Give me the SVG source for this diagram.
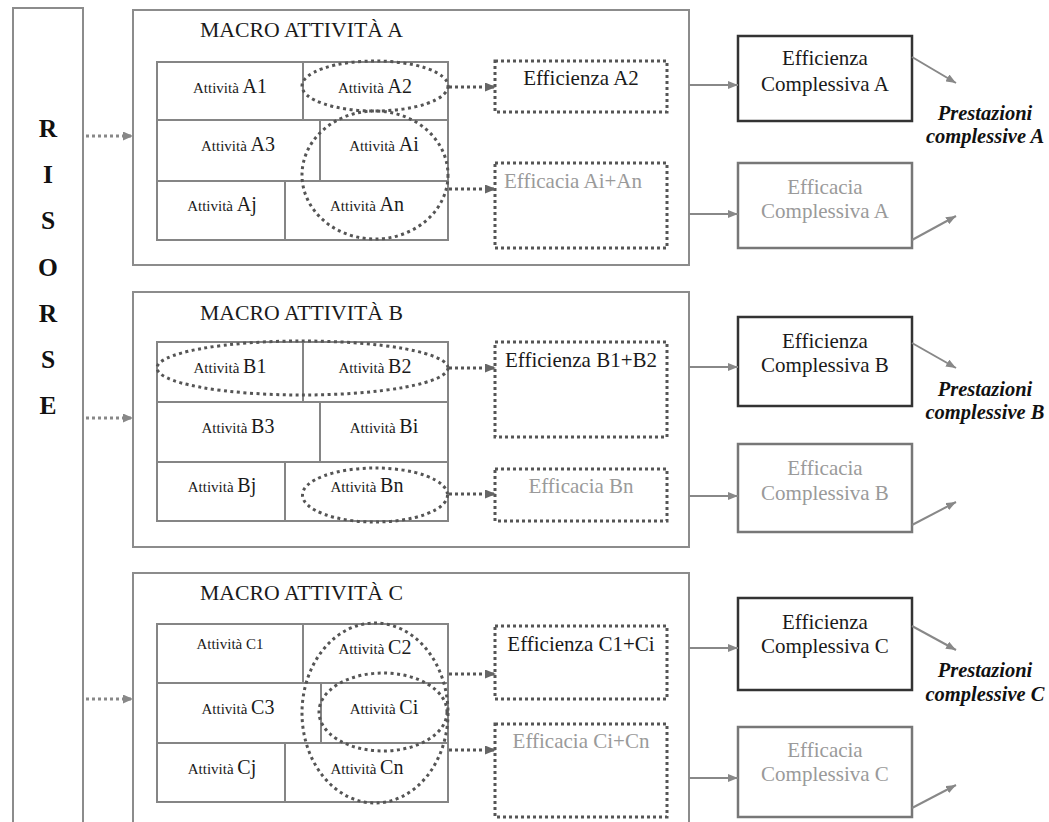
<svg xmlns="http://www.w3.org/2000/svg" width="1049" height="822" viewBox="0 0 1049 822" font-family="'Liberation Serif', 'DejaVu Serif', 'Noto Serif', 'Times New Roman', Times, serif">
<style>
text{font-family:'Liberation Serif','DejaVu Serif','Noto Serif','Times New Roman',Times,serif;fill:#1a1a1a}
.res{font-weight:bold;font-size:25.5px;text-anchor:middle;fill:#111}
.title{font-size:21px}
.cell{text-anchor:middle}
.sm{font-size:15px}
.lg{font-size:20px}
.macro{fill:#fff;stroke:#8c8c8c;stroke-width:2}
.grid{fill:#fff;stroke:#858585;stroke-width:2}
.gl{stroke:#858585;stroke-width:2}
.dotbox{fill:none;stroke:#555;stroke-width:3;stroke-dasharray:3 3}
.ell{fill:none;stroke:#555;stroke-width:3;stroke-dasharray:3 3.5}
.bt{font-size:21px;text-anchor:middle}
.gray{fill:#9a9a9a}
.effbox{fill:#fff;stroke:#333;stroke-width:2.5}
.efcbox{fill:#fff;stroke:#777;stroke-width:2.5}
.pre{font-size:20.5px;font-weight:bold;font-style:italic;text-anchor:middle;fill:#111}
.dotarr{stroke:#555;stroke-width:3;stroke-dasharray:3 3;fill:none}
.resarr{stroke:#888;stroke-width:3;stroke-dasharray:3 3;fill:none}
.solarr{stroke:#888;stroke-width:2;fill:none}
</style>
<defs>
<marker id="mSol" markerUnits="userSpaceOnUse" markerWidth="10" markerHeight="8" refX="10" refY="4" orient="auto"><path d="M0,0 L10,4 L0,8 z" fill="#888"/></marker>
<marker id="mDot" markerUnits="userSpaceOnUse" markerWidth="11" markerHeight="9" refX="11" refY="4.5" orient="auto"><path d="M0,0 L11,4.5 L0,9 z" fill="#666"/></marker>
<marker id="mRes" markerUnits="userSpaceOnUse" markerWidth="10" markerHeight="9" refX="10" refY="4.5" orient="auto"><path d="M0,0 L10,4.5 L0,9 z" fill="#888"/></marker>
</defs>
<rect width="1049" height="822" fill="#fff"/>

<g id="risorse">
<rect x="13" y="8" width="70" height="830" fill="#fff" stroke="#8c8c8c" stroke-width="2"/>
<text class="res" x="48" y="137">R</text>
<text class="res" x="48" y="183">I</text>
<text class="res" x="48" y="229">S</text>
<text class="res" x="48" y="276">O</text>
<text class="res" x="48" y="322">R</text>
<text class="res" x="48" y="368">S</text>
<text class="res" x="48" y="414">E</text>
</g>

<!-- MACRO A -->
<g id="macroA">
<rect class="macro" x="133" y="10" width="556" height="255"/>
<text class="title" x="200" y="37" textLength="203" lengthAdjust="spacingAndGlyphs">MACRO ATTIVITÀ A</text>
<rect class="grid" x="157" y="62" width="291" height="178"/>
<line class="gl" x1="157" y1="120" x2="448" y2="120"/>
<line class="gl" x1="157" y1="181" x2="448" y2="181"/>
<line class="gl" x1="303" y1="62" x2="303" y2="120"/>
<line class="gl" x1="320" y1="120" x2="320" y2="181"/>
<line class="gl" x1="285" y1="181" x2="285" y2="240"/>
</g>
<g id="A1"><text class="cell" x="230" y="93"><tspan class="sm">Attività </tspan><tspan class="lg">A1</tspan></text></g>
<g id="A2"><text class="cell" x="375" y="93"><tspan class="sm">Attività </tspan><tspan class="lg">A2</tspan></text></g>
<g id="A3"><text class="cell" x="238" y="151"><tspan class="sm">Attività </tspan><tspan class="lg">A3</tspan></text></g>
<g id="Ai"><text class="cell" x="384" y="151"><tspan class="sm">Attività </tspan><tspan class="lg">Ai</tspan></text></g>
<g id="Aj"><text class="cell" x="222" y="211"><tspan class="sm">Attività </tspan><tspan class="lg">Aj</tspan></text></g>
<g id="An"><text class="cell" x="367" y="211"><tspan class="sm">Attività </tspan><tspan class="lg">An</tspan></text></g>
<g id="ellA"><ellipse class="ell" cx="375" cy="86" rx="73" ry="25"/><ellipse class="ell" cx="375" cy="175" rx="73" ry="64"/></g>
<g id="effA2"><rect class="dotbox" x="495" y="61" width="172" height="51"/><text class="bt" x="581" y="85">Efficienza A2</text></g>
<g id="efcAiAn"><rect class="dotbox" x="495" y="163" width="172" height="85"/><text class="bt gray" x="573" y="188">Efficacia Ai+An</text></g>
<g id="effCompA"><rect class="effbox" x="738" y="36" width="174" height="85"/><text class="bt" x="825" y="65">Efficienza</text><text class="bt" x="825" y="91">Complessiva A</text></g>
<g id="efcCompA"><rect class="efcbox" x="738" y="163" width="174" height="85"/><text class="bt gray" x="825" y="194">Efficacia</text><text class="bt gray" x="825" y="218">Complessiva A</text></g>
<g id="prestA"><text class="pre" x="985" y="120">Prestazioni</text><text class="pre" x="985" y="143">complessive A</text></g>

<!-- MACRO B -->
<g id="macroB">
<rect class="macro" x="133" y="292" width="556" height="255"/>
<text class="title" x="200" y="320" textLength="203" lengthAdjust="spacingAndGlyphs">MACRO ATTIVITÀ B</text>
<rect class="grid" x="157" y="342" width="291" height="179"/>
<line class="gl" x1="157" y1="402" x2="448" y2="402"/>
<line class="gl" x1="157" y1="462" x2="448" y2="462"/>
<line class="gl" x1="303" y1="342" x2="303" y2="402"/>
<line class="gl" x1="320" y1="402" x2="320" y2="462"/>
<line class="gl" x1="285" y1="462" x2="285" y2="521"/>
</g>
<g id="B1"><text class="cell" x="230" y="373"><tspan class="sm">Attività </tspan><tspan class="lg">B1</tspan></text></g>
<g id="B2"><text class="cell" x="375" y="373"><tspan class="sm">Attività </tspan><tspan class="lg">B2</tspan></text></g>
<g id="B3"><text class="cell" x="238" y="433"><tspan class="sm">Attività </tspan><tspan class="lg">B3</tspan></text></g>
<g id="Bi"><text class="cell" x="384" y="433"><tspan class="sm">Attività </tspan><tspan class="lg">Bi</tspan></text></g>
<g id="Bj"><text class="cell" x="222" y="492"><tspan class="sm">Attività </tspan><tspan class="lg">Bj</tspan></text></g>
<g id="Bn"><text class="cell" x="367" y="492"><tspan class="sm">Attività </tspan><tspan class="lg">Bn</tspan></text></g>
<g id="ellB"><ellipse class="ell" cx="302.5" cy="368" rx="145.5" ry="27"/><ellipse class="ell" cx="375" cy="495" rx="72.5" ry="27"/></g>
<g id="effB1B2"><rect class="dotbox" x="495" y="342" width="172" height="95"/><text class="bt" x="581" y="367">Efficienza B1+B2</text></g>
<g id="efcBn"><rect class="dotbox" x="495" y="469" width="172" height="52"/><text class="bt gray" x="581" y="493">Efficacia Bn</text></g>
<g id="effCompB"><rect class="effbox" x="738" y="317" width="174" height="89"/><text class="bt" x="825" y="348">Efficienza</text><text class="bt" x="825" y="372">Complessiva B</text></g>
<g id="efcCompB"><rect class="efcbox" x="738" y="444" width="174" height="88"/><text class="bt gray" x="825" y="475">Efficacia</text><text class="bt gray" x="825" y="500">Complessiva B</text></g>
<g id="prestB"><text class="pre" x="985" y="396">Prestazioni</text><text class="pre" x="985" y="419">complessive B</text></g>

<!-- MACRO C -->
<g id="macroC">
<rect class="macro" x="133" y="573" width="556" height="270"/>
<text class="title" x="200" y="600" textLength="203" lengthAdjust="spacingAndGlyphs">MACRO ATTIVITÀ C</text>
<rect class="grid" x="157" y="624" width="291" height="178"/>
<line class="gl" x1="157" y1="683" x2="448" y2="683"/>
<line class="gl" x1="157" y1="743" x2="448" y2="743"/>
<line class="gl" x1="303" y1="624" x2="303" y2="683"/>
<line class="gl" x1="321" y1="683" x2="321" y2="743"/>
<line class="gl" x1="285" y1="743" x2="285" y2="802"/>
</g>
<g id="C1"><text class="cell sm" x="230" y="649">Attività C1</text></g>
<g id="C2"><text class="cell" x="375" y="654"><tspan class="sm">Attività </tspan><tspan class="lg">C2</tspan></text></g>
<g id="C3"><text class="cell" x="238" y="714"><tspan class="sm">Attività </tspan><tspan class="lg">C3</tspan></text></g>
<g id="Ci"><text class="cell" x="384" y="714"><tspan class="sm">Attività </tspan><tspan class="lg">Ci</tspan></text></g>
<g id="Cj"><text class="cell" x="222" y="774"><tspan class="sm">Attività </tspan><tspan class="lg">Cj</tspan></text></g>
<g id="Cn"><text class="cell" x="367" y="774"><tspan class="sm">Attività </tspan><tspan class="lg">Cn</tspan></text></g>
<g id="ellC"><ellipse class="ell" cx="375" cy="713" rx="73" ry="90"/><ellipse class="ell" cx="383" cy="712" rx="64" ry="39"/></g>
<g id="effC1Ci"><rect class="dotbox" x="495" y="626" width="172" height="73"/><text class="bt" x="581" y="651">Efficienza C1+Ci</text></g>
<g id="efcCiCn"><rect class="dotbox" x="495" y="724" width="172" height="93"/><text class="bt gray" x="581" y="748">Efficacia Ci+Cn</text></g>
<g id="effCompC"><rect class="effbox" x="738" y="598" width="174" height="92"/><text class="bt" x="825" y="629">Efficienza</text><text class="bt" x="825" y="653">Complessiva C</text></g>
<g id="efcCompC"><rect class="efcbox" x="738" y="727" width="174" height="90"/><text class="bt gray" x="825" y="757">Efficacia</text><text class="bt gray" x="825" y="781">Complessiva C</text></g>
<g id="prestC"><text class="pre" x="985" y="677">Prestazioni</text><text class="pre" x="985" y="701">complessive C</text></g>

<g id="connectors">
<line class="resarr" x1="86" y1="136" x2="133" y2="136" marker-end="url(#mRes)"/>
<line class="resarr" x1="86" y1="418" x2="133" y2="418" marker-end="url(#mRes)"/>
<line class="resarr" x1="86" y1="699" x2="133" y2="699" marker-end="url(#mRes)"/>

<line class="dotarr" x1="449" y1="87" x2="496" y2="87" marker-end="url(#mDot)"/>
<line class="dotarr" x1="449" y1="189" x2="496" y2="189" marker-end="url(#mDot)"/>
<line class="dotarr" x1="449" y1="368" x2="496" y2="368" marker-end="url(#mDot)"/>
<line class="dotarr" x1="449" y1="494" x2="496" y2="494" marker-end="url(#mDot)"/>
<line class="dotarr" x1="449" y1="674" x2="496" y2="674" marker-end="url(#mDot)"/>
<line class="dotarr" x1="449" y1="750" x2="496" y2="750" marker-end="url(#mDot)"/>

<line class="solarr" x1="689" y1="85" x2="738" y2="85" marker-end="url(#mSol)"/>
<line class="solarr" x1="689" y1="214" x2="738" y2="214" marker-end="url(#mSol)"/>
<line class="solarr" x1="689" y1="367" x2="738" y2="367" marker-end="url(#mSol)"/>
<line class="solarr" x1="689" y1="496" x2="738" y2="496" marker-end="url(#mSol)"/>
<line class="solarr" x1="689" y1="648" x2="738" y2="648" marker-end="url(#mSol)"/>
<line class="solarr" x1="689" y1="778" x2="738" y2="778" marker-end="url(#mSol)"/>

<line class="solarr" x1="912" y1="57" x2="956" y2="83" marker-end="url(#mSol)"/>
<line class="solarr" x1="912" y1="240" x2="956" y2="216" marker-end="url(#mSol)"/>
<line class="solarr" x1="912" y1="343" x2="956" y2="368" marker-end="url(#mSol)"/>
<line class="solarr" x1="912" y1="525" x2="956" y2="502" marker-end="url(#mSol)"/>
<line class="solarr" x1="912" y1="626" x2="956" y2="650" marker-end="url(#mSol)"/>
<line class="solarr" x1="912" y1="808" x2="956" y2="785" marker-end="url(#mSol)"/>
</g>
</svg>
